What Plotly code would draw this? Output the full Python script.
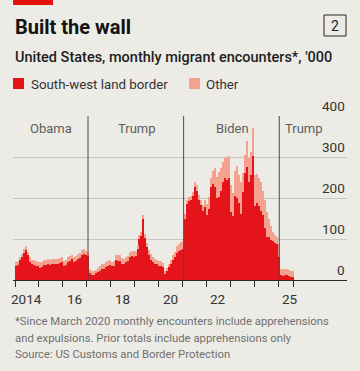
import plotly.graph_objects as go
import pandas as pd

# ---------------- data (thousands, monthly, Jan 2014 - Aug 2025) ----------------
months = pd.date_range("2014-01-01", "2025-08-01", freq="MS")

south_west = [33, 36, 48, 55, 66, 74, 60, 45, 38, 36, 34, 33,
              30, 32, 36, 37, 38, 37, 38, 39, 38, 40, 41, 43,
              34, 37, 44, 47, 52, 45, 47, 52, 54, 62, 64, 60,
              58, 18, 13, 13, 16, 19, 22, 27, 27, 31, 34, 36,
              33, 34, 48, 47, 47, 40, 38, 43, 46, 56, 58, 57,
              58, 75, 100, 108, 148, 102, 80, 60, 50, 43, 40, 38,
              34, 35, 32, 15, 21, 31, 39, 48, 55, 66, 70, 72,
              76, 150, 185, 192, 196, 204, 226, 218, 194, 182, 168, 178,
              158, 172, 226, 235, 226, 200, 203, 217, 238, 248, 245, 250,
              165, 156, 205, 200, 188, 160, 215, 262, 275, 240, 255, 302,
              180, 188, 180, 168, 158, 128, 106, 104, 98, 95, 91, 88,
              55, 11, 10, 11, 11, 9, 8, 8]

other = [10, 10, 9, 9, 9, 8, 9, 10, 11, 12, 12, 12,
         13, 13, 13, 13, 13, 13, 13, 13, 13, 12, 12, 12,
         12, 12, 11, 11, 10, 11, 11, 11, 11, 11, 11, 11,
         10, 9, 9, 9, 9, 10, 11, 12, 12, 12, 12, 12,
         12, 12, 14, 14, 14, 13, 13, 13, 13, 13, 13, 13,
         12, 10, 10, 10, 10, 10, 11, 12, 13, 13, 12, 12,
         12, 12, 10, 8, 8, 9, 10, 12, 14, 17, 18, 20,
         18, 12, 10, 11, 10, 11, 12, 14, 14, 14, 16, 18,
         27, 30, 22, 32, 46, 52, 60, 55, 50, 49, 55, 52,
         67, 56, 61, 77, 68, 78, 47, 43, 65, 58, 57, 68,
         75, 70, 70, 72, 60, 67, 59, 46, 34, 23, 19, 16,
         33, 16, 16, 16, 16, 15, 15, 14]

y_ticks = [0, 100, 200, 300, 400]
x_label_years = ["2014", "2016", "2018", "2020", "2022", "2025"]
x_label_text = ["2014", "16", "18", "20", "22", "25"]
x_tick_dates = [f"{y}-01-01" for y in range(2014, 2026)] + ["2025-09-01"]

presidents = ["Obama", "Trump", "Biden", "Trump"]
terms_start = ["2017-01-20", "2021-01-20", "2025-01-20"]
label_pos = ["2015-07-05", "2019-02-05", "2023-02-05"]

RED = "#e5141b"
PINK = "#f5a18f"
BG = "#ecebe5"
FONT = "Roboto"

W, H = 360, 371
L, R, T, B = 13, 13, 116, 91


def px(xp):
    return (xp - L) / (W - L - R)


def py(yp):
    return (H - B - yp) / (H - T - B)


DAY = 86400000
fig = go.Figure()
fig.add_bar(x=months, y=south_west, name="South-west land border",
            marker=dict(color=RED, line=dict(width=0)),
            width=31 * DAY, offset=0)
fig.add_bar(x=months, y=other, name="Other",
            marker=dict(color=PINK, line=dict(width=0)),
            width=31 * DAY, offset=0)

fig.update_layout(
    width=W, height=H, margin=dict(l=L, r=R, t=T, b=B, pad=0),
    paper_bgcolor=BG, plot_bgcolor=BG, barmode="stack", bargap=0,
    showlegend=False, font=dict(family=FONT, color="#333"),
    xaxis=dict(type="date", range=["2013-12-01", "2027-11-21"],
               showgrid=False, zeroline=False, showline=True,
               linecolor="#2b2b2b", linewidth=1.3,
               tickvals=x_tick_dates, ticks="outside", ticklen=6,
               tickwidth=1, tickcolor="#2b2b2b", showticklabels=False),
    yaxis=dict(range=[0, 400], tickvals=y_ticks[1:], showgrid=True,
               gridcolor="#c8c6bf", gridwidth=1, zeroline=False,
               showticklabels=False, ticks=""),
)

# president term lines
for d in terms_start:
    fig.add_shape(type="line", xref="x", yref="paper", x0=d, x1=d, y0=0, y1=1,
                  line=dict(color="#4a4a4a", width=1), layer="above")

ann = []
for name, pos in zip(presidents[:3], label_pos):
    ann.append(dict(x=pos, xref="x", y=py(128), yref="paper", text=name,
                    showarrow=False, xanchor="center", yanchor="middle",
                    font=dict(size=13, color="#5e5e5e", family=FONT)))
ann.append(dict(x=terms_start[2], xref="x", y=py(128), yref="paper",
                text=presidents[3], showarrow=False, xanchor="left",
                yanchor="middle", xshift=4,
                font=dict(size=13, color="#5e5e5e", family=FONT)))

# y tick labels (above gridlines, right aligned)
for v in y_ticks:
    ann.append(dict(x=1, xref="paper", y=v, yref="y", text=str(v),
                    showarrow=False, xanchor="right", yanchor="bottom",
                    yshift=0, font=dict(size=13.5, color="#333", family=FONT)))

# x labels centred on the year
for yr, t in zip(x_label_years, x_label_text):
    ann.append(dict(x=f"{yr}-07-01", xref="x", y=py(298.5), yref="paper",
                    text=t, showarrow=False, xanchor="center", yanchor="middle",
                    font=dict(size=13.5, color="#333", family=FONT)))

# titles
ann.append(dict(x=px(12.5), xref="paper", y=py(27), yref="paper",
                text="<b>Built the wall</b>", showarrow=False, xanchor="left",
                yanchor="middle", font=dict(size=20, color="#121212", family=FONT)))
ann.append(dict(x=px(335), xref="paper", y=py(25.5), yref="paper", text="2",
                showarrow=False, xanchor="center", yanchor="middle",
                font=dict(size=14, color="#222", family=FONT)))
ann.append(dict(x=px(13), xref="paper", y=py(57.5), yref="paper",
                text="United States, monthly migrant encounters*, '000",
                showarrow=False, xanchor="left", yanchor="middle",
                font=dict(size=14.5, color="#1e1e1e", family=FONT, weight=500)))
ann.append(dict(x=px(29), xref="paper", y=py(84), yref="paper",
                text="South-west land border", showarrow=False, xanchor="left",
                yanchor="middle", font=dict(size=13.3, color="#333", family=FONT)))
ann.append(dict(x=px(204), xref="paper", y=py(84), yref="paper",
                text="Other", showarrow=False, xanchor="left",
                yanchor="middle", font=dict(size=13.3, color="#333", family=FONT)))

foot = ["*Since March 2020 monthly encounters include apprehensions",
        "and expulsions. Prior totals include apprehensions only",
        "Source: US Customs and Border Protection"]
for i, line in enumerate(foot):
    ann.append(dict(x=px(13), xref="paper", y=py(321.5 + 16.5 * i), yref="paper",
                    text=line, showarrow=False, xanchor="left", yanchor="middle",
                    font=dict(size=11.3, color="#707070", family=FONT)))

fig.update_layout(annotations=ann)

shapes = [
    dict(type="rect", xref="paper", yref="paper", x0=px(13), x1=px(53),
         y0=py(0), y1=py(5), fillcolor="#e3120b", line=dict(width=0)),
    dict(type="rect", xref="paper", yref="paper", x0=px(324), x1=px(346),
         y0=py(15), y1=py(36), fillcolor="rgba(0,0,0,0)",
         line=dict(color="#222", width=1)),
    dict(type="rect", xref="paper", yref="paper", x0=px(13), x1=px(24),
         y0=py(78), y1=py(89), fillcolor=RED, line=dict(width=0)),
    dict(type="rect", xref="paper", yref="paper", x0=px(189), x1=px(200),
         y0=py(78), y1=py(89), fillcolor=PINK, line=dict(width=0)),
]
for s in shapes:
    fig.add_shape(**s)

fig.write_html("out.html",
               config={"displayModeBar": False, "staticPlot": True},
               post_script="document.body.style.margin='0';"
                           "document.body.style.padding='0';"
                           "document.body.style.overflow='hidden';"
                           f"document.body.style.background='{BG}';")
